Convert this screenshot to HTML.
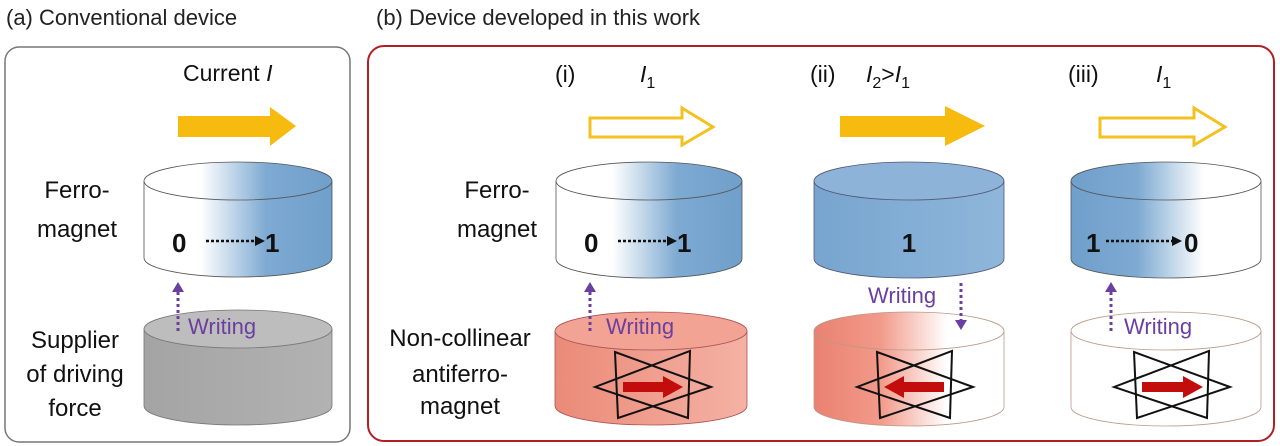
<!DOCTYPE html>
<html><head><meta charset="utf-8"><style>
html,body{margin:0;padding:0;background:#fff;}
svg{display:block;font-family:"Liberation Sans",Arial,sans-serif;}
</style></head><body>
<svg width="1280" height="446" viewBox="0 0 1280 446" xmlns="http://www.w3.org/2000/svg">
<defs>
<linearGradient id="wb" x1="0" x2="1" y1="0" y2="0"><stop offset="0.3" stop-color="#fff"/><stop offset="0.65" stop-color="#7eaad2"/><stop offset="1" stop-color="#6f9fcb"/></linearGradient>
<linearGradient id="bw" x1="0" x2="1" y1="0" y2="0"><stop offset="0" stop-color="#6f9fcb"/><stop offset="0.35" stop-color="#7eaad2"/><stop offset="0.7" stop-color="#fff"/></linearGradient>
<linearGradient id="bb" x1="0" x2="1"><stop offset="0" stop-color="#77a5cf"/><stop offset="1" stop-color="#8fb6da"/></linearGradient>
<linearGradient id="rr" x1="0" x2="1"><stop offset="0" stop-color="#eb8a78"/><stop offset="1" stop-color="#f4b2a5"/></linearGradient>
<linearGradient id="rw" x1="0" x2="1"><stop offset="0" stop-color="#ea8170"/><stop offset="0.35" stop-color="#f29a8a"/><stop offset="0.7" stop-color="#fff"/></linearGradient>
<linearGradient id="gg" x1="0" x2="1"><stop offset="0" stop-color="#a4a4a4"/><stop offset="1" stop-color="#b2b2b2"/></linearGradient>
<g id="star">
<polygon points="-58,0 37,-36 35,31" fill="none" stroke="#111" stroke-width="2"/>
<polygon points="58,0 -38,-35 -35,31" fill="none" stroke="#111" stroke-width="2"/>
</g>
</defs>

<text x="6" y="25" font-size="22" fill="#222">(a) Conventional device</text>
<text x="376" y="25" font-size="22" fill="#222">(b) Device developed in this work</text>

<rect x="5" y="47" width="345" height="395" rx="14" fill="none" stroke="#777" stroke-width="1.5"/>
<rect x="368" y="46" width="906" height="395" rx="16" fill="none" stroke="#b11f24" stroke-width="2"/>

<!-- (a) -->
<text x="183" y="81" font-size="23" fill="#111">Current <tspan font-style="italic">I</tspan></text>
<polygon points="178,116 270,116 270,107 296,126 270,146 270,137 178,137" fill="#f6bb0e"/>
<path d="M144,181 V258 A94,19 0 0 0 332,258 V181 Z" fill="url(#wb)" stroke="#555" stroke-width="0.8"/>
<ellipse cx="238" cy="181" rx="94" ry="19" fill="url(#wb)" stroke="#555" stroke-width="0.8"/>
<text x="77" y="198" font-size="24" text-anchor="middle" fill="#111">Ferro-</text>
<text x="77" y="237" font-size="24" text-anchor="middle" fill="#111">magnet</text>
<path d="M144,329 V406 A94,19 0 0 0 332,406 V329 Z" fill="url(#gg)" stroke="#777" stroke-width="0.8"/>
<ellipse cx="238" cy="329" rx="94" ry="19" fill="#bdbdbd" stroke="#777" stroke-width="0.8"/>
<text x="75" y="348" font-size="24" text-anchor="middle" fill="#111">Supplier</text>
<text x="75" y="382" font-size="24" text-anchor="middle" fill="#111">of driving</text>
<text x="75" y="416" font-size="24" text-anchor="middle" fill="#111">force</text>

<!-- (i) -->
<text x="555" y="82" font-size="23" fill="#111">(i)</text>
<text x="640" y="82" font-size="23" font-style="italic" fill="#111">I<tspan font-style="normal" font-size="16" dy="6">1</tspan></text>
<polygon points="590,118 682,118 682,108 713,127 682,145 682,137 590,137" fill="#fff" stroke="#f3c221" stroke-width="3"/>
<text x="497" y="198" font-size="24" text-anchor="middle" fill="#111">Ferro-</text>
<text x="497" y="237" font-size="24" text-anchor="middle" fill="#111">magnet</text>
<text x="460" y="346" font-size="24" text-anchor="middle" fill="#111">Non-collinear</text>
<text x="460" y="382" font-size="24" text-anchor="middle" fill="#111">antiferro-</text>
<text x="460" y="414" font-size="24" text-anchor="middle" fill="#111">magnet</text>
<path d="M556,181 V259 A93,19 0 0 0 742,259 V181 Z" fill="url(#wb)" stroke="#555" stroke-width="0.8"/>
<ellipse cx="649" cy="181" rx="93" ry="19" fill="url(#wb)" stroke="#555" stroke-width="0.8"/>
<path d="M555,331 V406 A96,19 0 0 0 747,406 V331 Z" fill="url(#rr)" stroke="#a55" stroke-width="0.8"/>
<ellipse cx="651" cy="331" rx="96" ry="19" fill="#f2a394" stroke="#a55" stroke-width="0.8"/>
<use href="#star" x="653" y="387"/>
<polygon points="623,382 663,382 663,376 683,387 663,398 663,392 623,392" fill="#c30d0d"/>

<!-- (ii) -->
<text x="810" y="82" font-size="23" fill="#111">(ii)</text>
<text x="866" y="82" font-size="23" font-style="italic" fill="#111">I<tspan font-style="normal" font-size="16" dy="6">2</tspan><tspan dy="-6" font-style="normal">&gt;</tspan>I<tspan font-style="normal" font-size="16" dy="6">1</tspan></text>
<polygon points="840,116 945,116 945,106 985,126 945,146 945,137 840,137" fill="#f6bb0e"/>
<path d="M814,181 V259 A95,19 0 0 0 1004,259 V181 Z" fill="url(#bb)" stroke="#557" stroke-width="0.8"/>
<ellipse cx="909" cy="181" rx="95" ry="19" fill="#8db4d8" stroke="#557" stroke-width="0.8"/>
<path d="M814,331 V407 A95,19 0 0 0 1004,407 V331 Z" fill="url(#rw)" stroke="#b98" stroke-width="0.8"/>
<ellipse cx="909" cy="331" rx="95" ry="19" fill="url(#rw)" stroke="#b98" stroke-width="0.8"/>
<use href="#star" x="915" y="387"/>
<polygon points="944,382 904,382 904,376 884,387 904,398 904,392 944,392" fill="#c30d0d"/>
<text x="909" y="252" font-size="26" font-weight="bold" text-anchor="middle" fill="#111">1</text>
<text x="868" y="303" font-size="22" fill="#6b3fa0">Writing</text>
<line x1="961" y1="283" x2="961" y2="322" stroke="#6b3fa0" stroke-width="3" stroke-dasharray="3,3"/>
<polygon points="955,320 967,320 961,330" fill="#6b3fa0"/>

<!-- (iii) -->
<text x="1068" y="82" font-size="23" fill="#111">(iii)</text>
<text x="1156" y="82" font-size="23" font-style="italic" fill="#111">I<tspan font-style="normal" font-size="16" dy="6">1</tspan></text>
<polygon points="1100,118 1194,118 1194,108 1225,127 1194,145 1194,137 1100,137" fill="#fff" stroke="#f3c221" stroke-width="3"/>
<path d="M1071,181 V259 A95,19 0 0 0 1261,259 V181 Z" fill="url(#bw)" stroke="#555" stroke-width="0.8"/>
<ellipse cx="1166" cy="181" rx="95" ry="19" fill="url(#bw)" stroke="#555" stroke-width="0.8"/>
<path d="M1071,331 V407 A95,19 0 0 0 1261,407 V331 Z" fill="#fff" stroke="#b98" stroke-width="0.8"/>
<ellipse cx="1166" cy="331" rx="95" ry="19" fill="#fff" stroke="#b98" stroke-width="0.8"/>
<use href="#star" x="1172" y="387"/>
<polygon points="1142,382 1183,382 1183,376 1203,387 1183,398 1183,392 1142,392" fill="#c30d0d"/>

<!-- 0...>1 arrows -->
<g font-size="26" font-weight="bold" fill="#111">
<text x="172" y="252">0</text><text x="265" y="252">1</text>
<text x="584" y="252">0</text><text x="677" y="252">1</text>
<text x="1086" y="252">1</text><text x="1184" y="252">0</text>
</g>
<g stroke="#111" stroke-width="2.5" stroke-dasharray="3,2">
<line x1="206" y1="241" x2="256" y2="241"/>
<line x1="618" y1="241" x2="668" y2="241"/>
<line x1="1106" y1="241" x2="1173" y2="241"/>
</g>
<polygon points="255,236 265,241 255,246" fill="#111"/>
<polygon points="667,236 677,241 667,246" fill="#111"/>
<polygon points="1172,236 1182,241 1172,246" fill="#111"/>

<!-- Writing up arrows -->
<g fill="#6b3fa0" font-size="22">
<text x="188" y="334">Writing</text>
<text x="606" y="334">Writing</text>
<text x="1124" y="334">Writing</text>
<polygon points="172,292 184,292 178,282"/>
<polygon points="584,292 596,292 590,282"/>
<polygon points="1105,292 1117,292 1111,282"/>
</g>
<g stroke="#6b3fa0" stroke-width="3" stroke-dasharray="3,3">
<line x1="178" y1="292" x2="178" y2="333"/>
<line x1="590" y1="292" x2="590" y2="333"/>
<line x1="1111" y1="292" x2="1111" y2="333"/>
</g>
</svg>
</body></html>
